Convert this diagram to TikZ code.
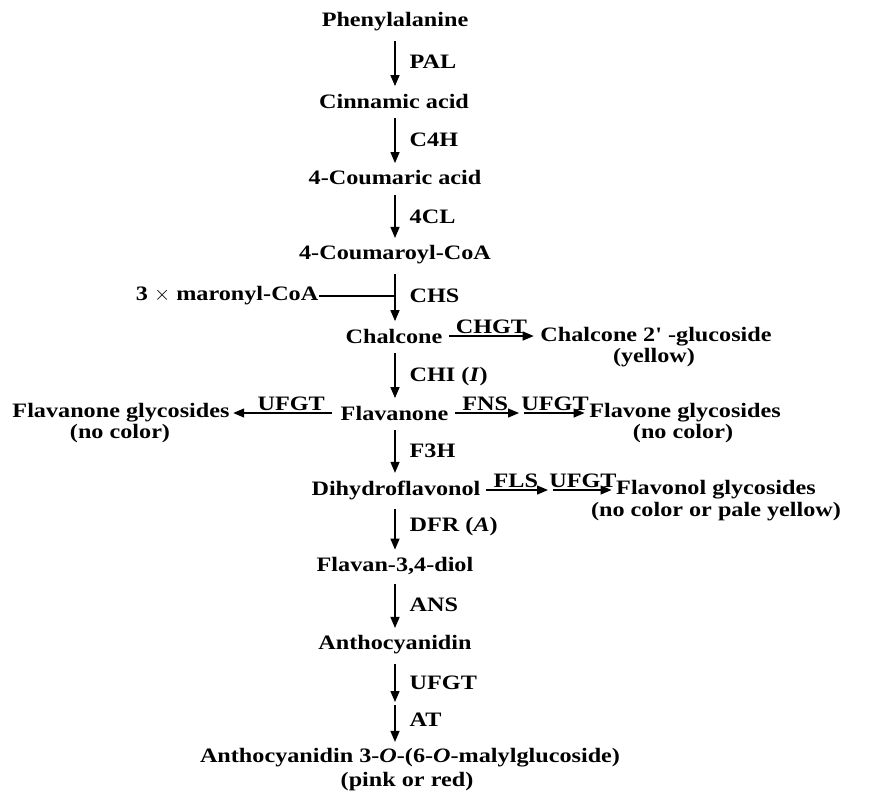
\documentclass[tikz,border=0pt]{standalone}
\usepackage{fontspec}
\setmainfont{Liberation Serif}[Ligatures=TeXOff, FakeStretch=1.18]
\usetikzlibrary{arrows.meta}
\begin{document}
\begin{tikzpicture}[x=1pt,y=-1pt,
  txt/.style={font=\fontsize{20.5}{22}\selectfont\bfseries, inner sep=0.5pt},
  enz/.style={txt, anchor=west},
  arr/.style={line width=1.3pt,-{Triangle[width=9pt,length=11pt]}},
  vline/.style={line width=1.3pt},
  va/.style={arr, shorten <=9pt, shorten >=7pt}]
\useasboundingbox (0,0) rectangle (869,796);
\coordinate (col) at (395,0);
% main column
\node[txt] (phe) at (395,22) {Phenylalanine};
\node[txt] (cin) at (394,101) {Cinnamic acid};
\node[txt] (cou) at (395,178) {4-Coumaric acid};
\node[txt] (coa) at (395,255) {4-Coumaroyl-CoA};
\node[txt] (chal) at (394,336) {Chalcone};
\node[txt] (fla) at (394.5,413) {Flavanone};
\node[txt] (dhf) at (396,490) {Dihydroflavonol};
\node[txt] (fl34) at (395,566) {Flavan-3,4-diol};
\node[txt] (ant) at (395,645) {Anthocyanidin};
\node[txt] (amg) at (410,758) {Anthocyanidin 3-\textit{O}-(6-\textit{O}-malylglucoside)};
\node[txt] (amgp) at (407,782) {(pink or red)};
% side products
\node[txt, anchor=east] (mal) at (319,296) {3 $\times$ maronyl-CoA};
\node[txt] (chg) at (656,337) {Chalcone 2' -glucoside};
\node[txt] (chgy) at (654,358) {(yellow)};
\node[txt] (fg) at (121,413) {Flavanone glycosides};
\node[txt] (fgn) at (120,434) {(no color)};
\node[txt] (fvg) at (685,413) {Flavone glycosides};
\node[txt] (fvgn) at (683,434) {(no color)};
\node[txt] (flg) at (716,490) {Flavonol glycosides};
\node[txt] (flgn) at (716,512) {(no color or pale yellow)};
% enzymes
\node[enz] (pal) at (409,62) {PAL};
\node[enz] (c4h) at (409,140) {C4H};
\node[enz] (fcl) at (409,217) {4CL};
\node[enz] (chs) at (409,296) {CHS};
\node[enz] (chi) at (409,377) {CHI (\textit{I})};
\node[enz] (fth) at (409,451) {F3H};
\node[enz] (dfr) at (409,527) {DFR (\textit{A})};
\node[enz] (ans) at (409,605) {ANS};
\node[enz] (ufgt) at (409,683) {UFGT};
\node[enz] (at) at (409,720) {AT};
% vertical arrows
\draw[va] (phe.south -| col) -- (cin.north -| col);
\draw[va] (cin.south -| col) -- (cou.north -| col);
\draw[va] (cou.south -| col) -- (coa.north -| col);
\draw[va] (coa.south -| col) -- (chal.north -| col);
\draw[va] (chal.south -| col) -- (fla.north -| col);
\draw[va] (fla.south -| col) -- (dhf.north -| col);
\draw[va] (dhf.south -| col) -- (fl34.north -| col);
\draw[va] (fl34.south -| col) -- (ant.north -| col);
\coordinate (m1) at (395,703.5);
\draw[arr, shorten <=9pt, shorten >=1.5pt] (ant.south -| col) -- (m1);
\draw[arr, shorten <=1.5pt, shorten >=6pt] (m1) -- (amg.north -| col);
% malonyl join
\draw[vline] (mal.east) -- (mal.east -| col);
% horizontal arrows
\draw[arr, shorten <=6pt, shorten >=6pt] (chal.east) -- node[above, txt, yshift=1pt] (chgt) {CHGT} (chal.east -| chg.west);
\draw[arr, shorten <=8pt, shorten >=3pt] (fla.west) -- node[above, txt, yshift=1pt, xshift=6pt] (ufgt1) {UFGT} (fla.west -| fg.east);
\coordinate (c1) at (521.5,413);
\draw[arr, shorten <=6pt, shorten >=2.5pt] (fla.east) -- node[above, txt, yshift=1pt] (fns) {FNS} (c1);
\draw[arr, shorten <=2.5pt, shorten >=4pt] (c1) -- node[above, txt, yshift=1pt] (ufgt2) {UFGT} (c1 -| fvg.west);
\coordinate (c2) at (550.5,490);
\draw[arr, shorten <=5pt, shorten >=2.5pt] (dhf.east) -- node[above, txt, yshift=1pt] (fls) {FLS} (c2);
\draw[arr, shorten <=2.5pt, shorten >=4pt] (c2) -- node[above, txt, yshift=1pt] (ufgt3) {UFGT} (c2 -| flg.west);
\end{tikzpicture}
\end{document}
